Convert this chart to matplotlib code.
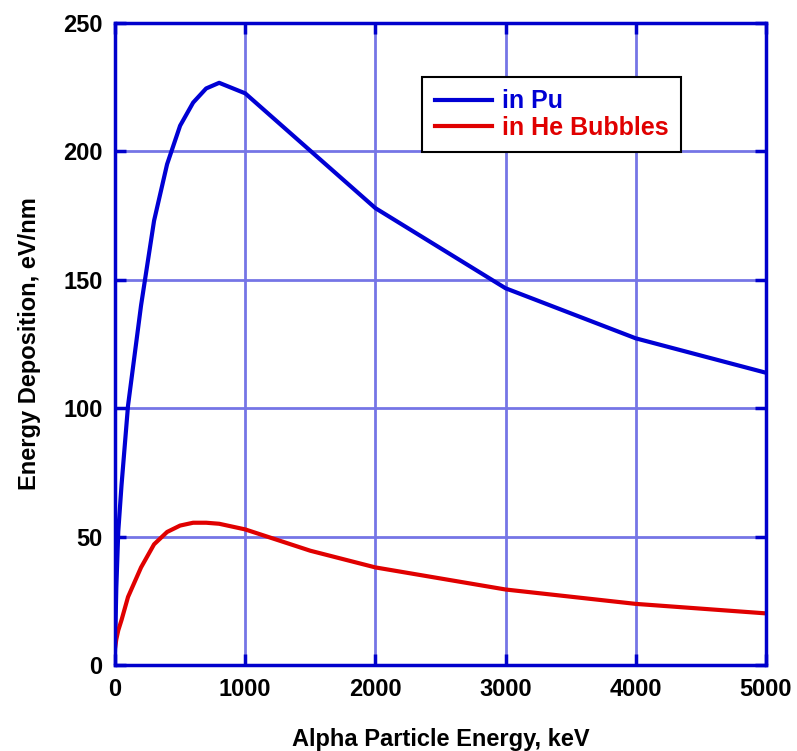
import matplotlib
matplotlib.use("Agg")
from matplotlib import pyplot as plt

plt.rcParams['font.family'] = ['Liberation Sans', 'DejaVu Sans']
plt.rcParams['font.weight'] = 'bold'

# alpha particle energy (keV) vs energy deposition (eV/nm)
energy_pu = [0, 10, 25, 50, 100, 200, 300, 400, 500, 600, 700, 800, 1000, 2000, 3000, 4000, 5000]
dep_pu = [6, 30, 52, 70, 101, 140, 173, 195, 210, 219, 224.5, 226.7, 222.6, 177.9, 146.7, 127.2, 113.8]

energy_he = [0, 10, 25, 50, 100, 200, 300, 400, 500, 600, 700, 800, 1000, 1500, 2000, 3000, 4000, 5000]
dep_he = [6.5, 10, 13.5, 17.5, 26.5, 38, 47, 51.8, 54.3, 55.4, 55.4, 55, 52.8, 44.5, 38, 29.4, 23.8, 20.1]

labels = ["in Pu", "in He Bubbles"]
blue = '#0000d4'
red = '#e00000'
axis_blue = '#0000cc'
grid_blue = '#7575e6'

fig = plt.figure(figsize=(7.97, 7.51), dpi=100)
ax = fig.add_axes([0.1443, 0.1145, 0.8168, 0.8549])

ax.plot(energy_pu, dep_pu, color=blue, lw=3, label=labels[0], zorder=3)
ax.plot(energy_he, dep_he, color=red, lw=3, label=labels[1], zorder=3)

ax.set_xlim(0, 5000)
ax.set_ylim(0, 250)
ax.set_xticks([0, 1000, 2000, 3000, 4000, 5000])
ax.set_yticks([0, 50, 100, 150, 200, 250])

ax.grid(True, color=grid_blue, lw=2, zorder=1)
for s in ax.spines.values():
    s.set_color(axis_blue)
    s.set_linewidth(2.5)
    s.set_zorder(4)

ax.tick_params(direction='in', length=8, width=2.5, color=axis_blue,
               top=True, right=True, labelsize=17, pad=9)
for t in ax.get_xticklabels() + ax.get_yticklabels():
    t.set_fontweight('bold')

ax.set_xlabel("Alpha Particle Energy, keV", fontsize=17, fontweight='bold', labelpad=20)
ax.set_ylabel("Energy Deposition, eV/nm", fontsize=17, fontweight='bold', labelpad=16)

leg = ax.legend(loc='upper left', bbox_to_anchor=(0.4716, 0.916), borderaxespad=0,
                fancybox=False, edgecolor='black', framealpha=1, handlelength=2.3,
                handletextpad=0.4, labelspacing=0.1, borderpad=0.5,
                prop={'weight': 'bold', 'size': 18}, labelcolor=[blue, red])
leg.get_frame().set_linewidth(1.5)
leg.set_zorder(5)

plt.savefig("out.png", dpi=100)
